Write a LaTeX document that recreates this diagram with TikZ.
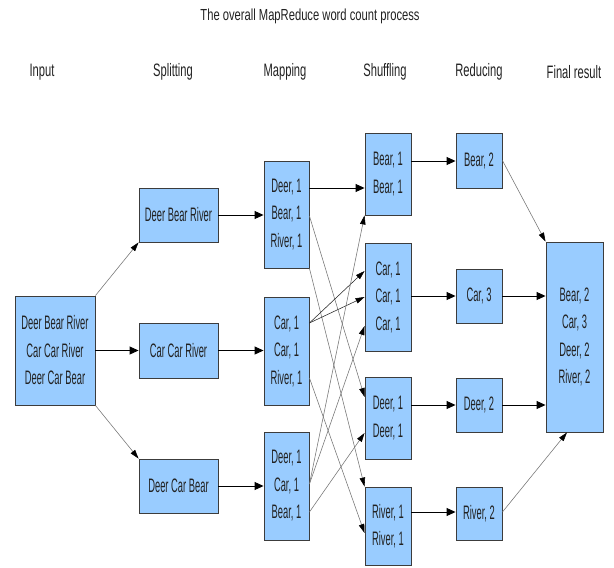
\documentclass[tikz,border=0pt]{standalone}
\usepackage{fontspec}
\usetikzlibrary{arrows.meta,calc}
\newfontfamily\boxfont[FakeStretch=0.48]{Liberation Sans}
\newfontfamily\headfont[FakeStretch=0.62]{Liberation Sans}
\newfontfamily\titlefont[FakeStretch=0.70]{Liberation Sans}
\definecolor{boxblue}{RGB}{153,204,255}
\definecolor{ink}{RGB}{34,34,34}
\definecolor{edge}{RGB}{60,60,60}

\begin{document}
\begin{tikzpicture}[x=1pt,y=-1pt,
  box/.style={draw=edge, line width=0.9pt, fill=boxblue, inner sep=0pt,
    align=center, text=ink, font=\boxfont\fontsize{19.5}{27.5}\selectfont},
  sz/.style 2 args={minimum width=#1, minimum height=#2},
  head/.style={text=ink, font=\headfont\fontsize{18}{20}\selectfont},
  heavy/.style={draw=black, line width=0.9pt, -{Triangle[length=9pt,width=8pt]}},
  light/.style={draw=black!55, line width=0.55pt, -{Triangle[length=9pt,width=5.5pt,color=black]}}
]
\useasboundingbox[fill=white] (0,0) rectangle (614,568);

% title and column headings
\node[text=ink, font=\titlefont\fontsize{16}{18}\selectfont] (title) at (310,16) {The overall MapReduce word count process};
\node[head] (hin)  at (42,72)  {Input};
\node[head] (hsp)  at (173,72) {Splitting};
\node[head] (hmap) at (285,72) {Mapping};
\node[head] (hsh)  at (385,72) {Shuffling};
\node[head] (hred) at (479,72) {Reducing};
\node[head] (hfin) at (574,72) {Final result};

% input
\node[box, sz={80pt}{109pt}] (in) at (55,350.5) {Deer Bear River\\Car Car River\\Deer Car Bear};

% splitting
\node[box, sz={79pt}{54pt}] (sp1) at (178.5,215)   {Deer Bear River};
\node[box, sz={79pt}{55pt}] (sp2) at (178.5,350.5) {Car Car River};
\node[box, sz={79pt}{54pt}] (sp3) at (178.5,486)   {Deer Car Bear};

% mapping
\node[box, sz={45pt}{107pt}] (m1) at (286.5,214.5) {Deer, 1\\Bear, 1\\River, 1};
\node[box, sz={45pt}{108pt}] (m2) at (286.5,351)   {Car, 1\\Car, 1\\River, 1};
\node[box, sz={45pt}{108pt}] (m3) at (286.5,486)   {Deer, 1\\Car, 1\\Bear, 1};

% shuffling
\node[box, sz={46pt}{82pt}]  (s1) at (388,174) {Bear, 1\\Bear, 1};
\node[box, sz={46pt}{108pt}] (s2) at (388,297) {Car, 1\\Car, 1\\Car, 1};
\node[box, sz={46pt}{82pt}]  (s3) at (388,418) {Deer, 1\\Deer, 1};
\node[box, sz={46pt}{78pt}]  (s4) at (388,526) {River, 1\\River, 1};

% reducing
\node[box, sz={46pt}{55pt}] (r1) at (479,160.5) {Bear, 2};
\node[box, sz={46pt}{54pt}] (r2) at (479,296)   {Car, 3};
\node[box, sz={46pt}{54pt}] (r3) at (479,405)   {Deer, 2};
\node[box, sz={46pt}{53pt}] (r4) at (479,513.5) {River, 2};

% final result
\node[box, sz={57pt}{190pt}] (fin) at (574.5,337) {Bear, 2\\Car, 3\\Deer, 2\\River, 2};

% input -> splitting
\draw[light] (in.north east) -- (sp1.south west);
\draw[heavy] (in.east) -- (in.east -| sp2.west);
\draw[light] (in.south east) -- (sp3.north west);

% splitting -> mapping
\draw[heavy] (sp1.east) -- (sp1.east -| m1.west);
\draw[heavy] (sp2.east) -- (sp2.east -| m2.west);
\draw[heavy] (sp3.east) -- (sp3.east -| m3.west);

% mapping -> shuffling
\draw[heavy] ([yshift=26.5pt]m1.east) -- ([yshift=26.5pt]m1.east -| s1.west);
\draw[light] ([yshift=-1.5pt]m1.east) -- ([yshift=21pt]s3.west);
\draw[light] (m1.south east) -- (s4.north west);
\draw[light, draw=black!85] ([yshift=28pt]m2.east) -- ([yshift=26pt]s2.west);
\draw[light, draw=black!85] ([yshift=28pt]m2.east) -- (s2.west);
\draw[light] ([yshift=-27pt]m2.east) -- ([yshift=-7pt]s4.west);
\draw[light] ([yshift=2pt]m3.east) -- (s1.south west);
\draw[light] ([yshift=2pt]m3.east) -- ([yshift=-29pt]s2.west);
\draw[light] ([yshift=-26pt]m3.east) -- ([yshift=-15pt]s3.west);

% shuffling -> reducing
\draw[heavy] ([yshift=13pt]s1.east) -- ([yshift=13pt]s1.east -| r1.west);
\draw[heavy] ([yshift=1pt]s2.east) -- ([yshift=1pt]s2.east -| r2.west);
\draw[heavy] ([yshift=13pt]s3.east) -- ([yshift=13pt]s3.east -| r3.west);
\draw[heavy] ([yshift=14pt]s4.east) -- ([yshift=14pt]s4.east -| r4.west);

% reducing -> final result
\draw[light] (r1.east) -- (fin.north west);
\draw[heavy] (r2.east) -- (r2.east -| fin.west);
\draw[heavy] (r3.east) -- (r3.east -| fin.west);
\draw[light] ([yshift=1.5pt]r4.east) -- ([xshift=-7.5pt]fin.south);
\end{tikzpicture}
\end{document}
